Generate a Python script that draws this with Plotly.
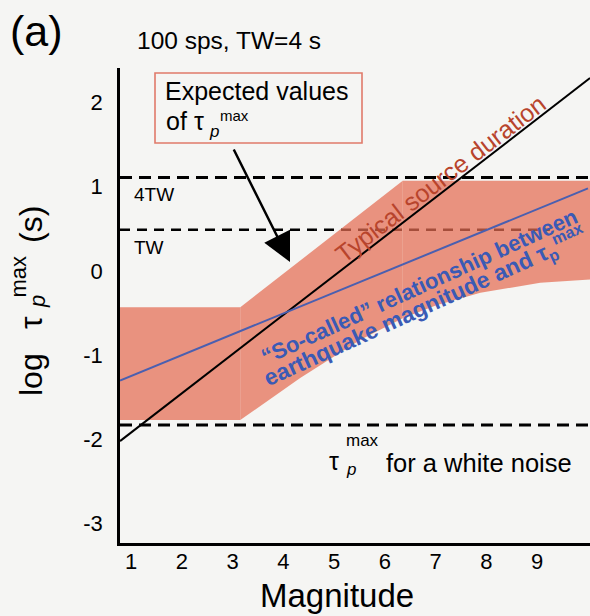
import plotly.graph_objects as go

# ---------------- data ----------------
x_ticks = [1, 2, 3, 4, 5, 6, 7, 8, 9]
y_ticks = [-3, -2, -1, 0, 1, 2]
y_tick_labels = ["-3", "-2", "-1", "0", "1", "2"]
x_range = [0.78, 10.04]
y_range = [-3.23, 2.41]

# "Typical source duration" line
source_m = [0.78, 10.04]
source_logt = [-2.02, 2.29]

# "So-called" relationship line
socalled_m = [0.78, 10.0]
socalled_logt = [-1.30, 0.98]

# expected-value band (upper and lower edges)
band_top_m = [0.78, 3.15, 6.35, 10.04]
band_top_logt = [-0.43, -0.43, 1.07, 1.07]
band_bot_m = [0.78, 3.15, 4.33, 5.51, 6.35, 7.0, 7.88, 9.06, 10.04]
band_bot_logt = [-1.77, -1.77, -1.27, -0.82, -0.56, -0.41, -0.26, -0.14, -0.10]
band_breaks = [0.78, 3.15, 6.35, 10.04]

# reference levels
level_4tw = 1.11
level_tw = 0.49
level_noise = -1.83
tw_line_end = 9.25

# ---------------- styling ----------------
FONT = "Liberation Sans, Arial, sans-serif"
BG = "#f5f5f3"
BAND = "rgba(228,108,82,0.72)"
BLUE_LINE = "#4a5fb0"
BLUE_TEXT = "#3a5ab5"
RED_TEXT = "#b8442c"

W, H = 590, 616
L, R, T, B = 120, 0, 68, 73


def pp(xp, yp):
    """pixel position -> paper coordinates"""
    return (xp - L) / (W - L - R), (H - B - yp) / (H - T - B)


fig = go.Figure()

# TW dashed line (under the band)
fig.add_trace(go.Scatter(x=[x_range[0], tw_line_end], y=[level_tw, level_tw], mode="lines",
                         line=dict(color="black", width=2.6, dash="10px,7px"),
                         hoverinfo="skip", showlegend=False))

# band polygons
for a, b in zip(band_breaks[:-1], band_breaks[1:]):
    tx = [m for m in band_top_m if a <= m <= b]
    ty = [v for m, v in zip(band_top_m, band_top_logt) if a <= m <= b]
    bx = [m for m in band_bot_m if a <= m <= b]
    by = [v for m, v in zip(band_bot_m, band_bot_logt) if a <= m <= b]
    fig.add_trace(go.Scatter(x=tx + bx[::-1], y=ty + by[::-1], mode="lines",
                             fill="toself", fillcolor=BAND, line=dict(width=0),
                             hoverinfo="skip", showlegend=False))

# 4TW and white noise dashed lines
for lvl in (level_4tw, level_noise):
    fig.add_trace(go.Scatter(x=x_range, y=[lvl, lvl], mode="lines",
                             line=dict(color="black", width=3, dash="12px,7px"),
                             hoverinfo="skip", showlegend=False))

# source duration line
fig.add_trace(go.Scatter(x=source_m, y=source_logt, mode="lines",
                         line=dict(color="black", width=2), hoverinfo="skip", showlegend=False))
# so-called relationship line
fig.add_trace(go.Scatter(x=socalled_m, y=socalled_logt, mode="lines",
                         line=dict(color=BLUE_LINE, width=2), hoverinfo="skip", showlegend=False))

ann = []


def txt(text, xp, yp, size, color="black", angle=0, xanchor="center", yanchor="middle",
        align="center", italic=False):
    x, y = pp(xp, yp)
    ann.append(dict(text=text, x=x, y=y, xref="paper", yref="paper", showarrow=False,
                    textangle=angle, xanchor=xanchor, yanchor=yanchor, align=align,
                    font=dict(family=FONT, size=size, color=color,
                              style="italic" if italic else "normal")))


# panel label and title
txt("(a)", 36, 31, 43)
txt("100 sps, TW=4 s", 229, 40, 24.5)

# y axis title pieces (rotated)
txt("log", 31, 375, 32, angle=-90)
txt("τ", 31, 323, 32, angle=-90)
txt("max", 17.5, 277, 22, angle=-90)
txt("p", 37, 302, 22, angle=-90, italic=True)
txt("(s)", 31, 225, 32, angle=-90)

# x axis title
txt("Magnitude", 337, 595, 33)

# box text
txt("Expected values", 163, 91, 25, xanchor="left")
txt("of", 164, 121, 25, xanchor="left")
txt("τ", 199, 121, 25)
txt("max", 234, 115, 15)
txt("p", 214, 131, 17, italic=True)

# level labels
txt("4TW", 132, 194, 19, xanchor="left")
txt("TW", 132, 247, 19, xanchor="left")

# white noise label
txt("τ", 334, 461, 25)
txt("max", 362, 440, 17)
txt("p", 351, 469, 17, italic=True)
txt("for a white noise", 479, 463, 25.5)

# rotated labels on the band
txt("Typical source duration", 440, 179, 25, color=RED_TEXT, angle=-37.5)
txt("<b>\u201cSo-called\u201d relationship between</b>", 419.5, 286.5, 22, color=BLUE_TEXT, angle=-24.5)
txt("<b>earthquake magnitude and τ<sub>p</sub><sup>max</sup></b>", 424, 306, 23,
    color=BLUE_TEXT, angle=-24.5)

# arrow from the box to the band
ax_, ay_ = pp(290, 262)
ann.append(dict(text="", x=ax_, y=ay_, xref="paper", yref="paper", showarrow=True,
                ax=233 - 290, ay=148 - 262, arrowhead=2, arrowsize=2.3, arrowwidth=2.5,
                arrowcolor="black"))

# box outline
bx0, by0 = pp(155, 143)
bx1, by1 = pp(362, 73)
shapes = [dict(type="rect", xref="paper", yref="paper", x0=bx0, y0=by0, x1=bx1, y1=by1,
               line=dict(color="#e07a6a", width=1.6), fillcolor="rgba(0,0,0,0)")]

fig.update_layout(
    width=W, height=H,
    margin=dict(l=L, r=R, t=T, b=B),
    paper_bgcolor=BG, plot_bgcolor=BG,
    showlegend=False,
    annotations=ann,
    shapes=shapes,
    font=dict(family=FONT, color="black"),
    xaxis=dict(range=x_range, tickvals=x_ticks, ticktext=[str(v) for v in x_ticks],
               showgrid=False, zeroline=False, showline=True, linecolor="black", linewidth=2.5,
               ticks="", tickfont=dict(size=22, family=FONT, color="black"), ticklabelstandoff=-3),
    yaxis=dict(range=y_range, tickvals=y_ticks, ticktext=y_tick_labels,
               showgrid=False, zeroline=False, showline=True, linecolor="black", linewidth=2.5,
               ticks="", tickfont=dict(size=22, family=FONT, color="black"), ticklabelstandoff=10),
)

fig.write_html("out.html", config={"displayModeBar": False},
               post_script="document.body.style.margin='0';document.body.style.overflow='hidden';")
